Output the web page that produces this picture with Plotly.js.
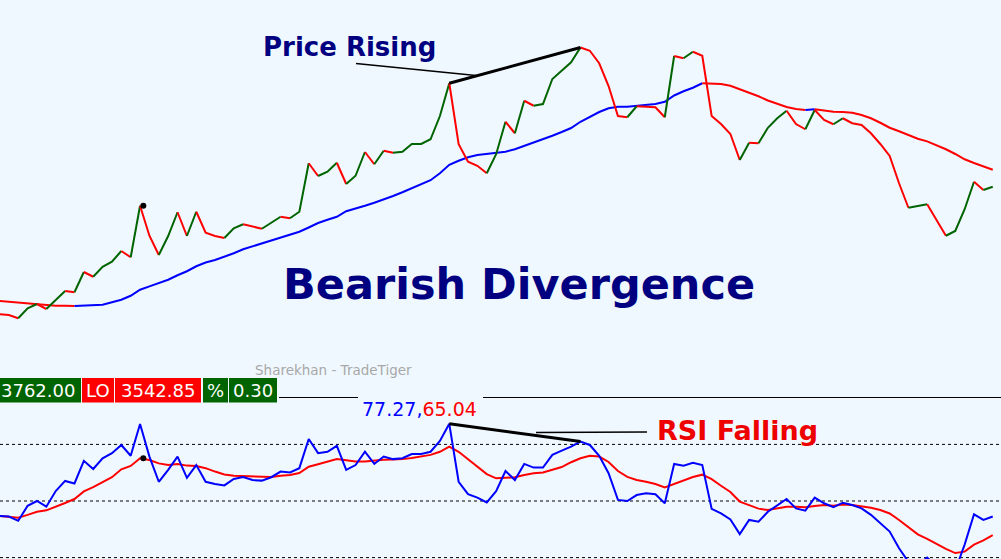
<!DOCTYPE html>
<html>
<head>
<meta charset="utf-8">
<script src="https://cdn.plot.ly/plotly-3.0.1.min.js"></script>
<style>html,body{margin:0;padding:0;background:#f0f8ff;}#chart{width:1001px;height:559px;}</style>
</head>
<body>
<div id="chart"></div>
<script>
// ---- data ----
const price = [3548.6,3548.0,3545.4,3553.4,3556.8,3552.8,3560.0,3567.2,3566.2,3582.4,
3578.6,3586.6,3590.6,3599.2,3594.2,3635.4,3611.4,3596.0,3611.2,3630.2,
3611.2,3630.6,3613.8,3611.2,3609.6,3617.4,3620.6,3618.6,3617.0,3621.8,
3626.6,3625.4,3630.6,3669.4,3659.2,3662.6,3669.8,3652.8,3659.4,3678.4,
3668.6,3679.4,3677.8,3678.6,3684.8,3684.8,3688.6,3707.2,3733.4,3684.6,
3670.6,3667.4,3661.4,3676.6,3702.6,3693.4,3719.4,3715.4,3716.8,3736.8,
3743.4,3750.2,3762.0,3759.4,3749.4,3731.2,3707.2,3706.2,3715.0,3714.8,
3714.2,3706.2,3755.2,3753.4,3758.6,3755.4,3707.2,3700.8,3692.8,3672.0,
3685.8,3685.4,3697.8,3705.4,3711.4,3700.8,3696.6,3712.0,3704.0,3700.6,
3705.4,3701.4,3700.0,3693.4,3684.8,3675.2,3653.4,3633.8,3635.4,3636.6,
3624.0,3611.4,3615.2,3632.6,3654.6,3648.0,3650.6];

const movingAvg = [3559.2,3558.6,3557.8,3556.8,3556.6,3556.0,3555.5,3555.4,3555.3,3555.4,
3555.5,3556.2,3558.2,3560.2,3563.4,3568.2,3570.9,3573.4,3576.2,3579.8,
3583.0,3587.0,3590.0,3592.0,3594.6,3597.4,3600.6,3603.0,3605.6,3607.6,
3610.0,3612.2,3614.6,3618.0,3621.6,3624.2,3626.6,3631.0,3633.0,3635.4,
3637.8,3640.2,3643.2,3646.2,3649.4,3652.6,3655.8,3661.4,3668.2,3671.4,
3674.2,3676.0,3676.8,3677.4,3678.6,3680.6,3683.2,3685.8,3688.6,3691.4,
3694.4,3697.6,3702.6,3706.6,3710.4,3713.4,3714.6,3714.7,3715.2,3715.8,
3716.8,3718.6,3723.6,3727.0,3729.8,3733.4,3733.3,3732.8,3731.4,3728.6,
3726.2,3723.0,3719.6,3716.8,3714.4,3712.8,3712.0,3712.6,3711.4,3710.6,
3710.5,3709.8,3708.0,3705.4,3701.8,3697.8,3695.0,3692.2,3689.0,3686.9,
3684.0,3680.6,3676.8,3672.6,3669.6,3667.0,3664.2];

const rsi = [44.7,44.5,43.0,48.3,50.0,48.0,53.5,57.1,56.2,64.2,
61.3,65.1,66.9,69.8,66.0,77.2,65.7,56.8,61.0,65.7,
58.2,62.7,56.8,56.0,55.5,57.8,58.5,57.4,57.2,58.4,
60.4,60.1,61.6,71.9,66.9,67.4,69.5,61.0,62.7,67.4,
63.1,65.7,64.8,65.1,66.6,66.6,67.4,71.2,77.27,56.8,
52.4,51.2,49.5,53.5,60.6,57.4,63.1,61.8,61.8,66.3,
67.8,69.2,71.0,69.8,66.0,59.8,50.4,50.0,52.1,52.7,
52.4,49.2,63.1,62.5,63.5,62.7,47.2,45.6,43.5,38.3,
43.3,42.7,46.2,48.6,50.7,47.4,46.6,51.2,49.2,47.8,
49.4,48.6,47.4,45.1,42.3,39.2,33.3,28.5,27.5,30.0,
27.0,25.0,25.5,34.6,45.3,43.3,44.5];

const rsiSignal = [44.7,44.5,44.1,45.1,46.2,46.7,47.9,49.3,50.7,53.4,
54.9,56.6,58.4,61.2,62.4,65.1,64.5,63.3,62.7,63.1,
62.5,62.4,61.6,60.4,59.4,58.9,58.8,58.5,58.4,58.5,
58.9,59.2,59.9,62.1,63.0,63.9,64.8,64.4,64.0,64.0,
64.4,64.6,64.7,64.8,65.2,65.8,66.3,67.4,69.2,67.4,
64.8,62.1,59.5,58.0,58.2,58.4,59.2,59.8,60.1,61.0,
62.0,63.7,65.1,66.0,65.7,63.8,60.6,58.5,57.4,56.8,
56.0,54.8,56.1,57.3,58.5,59.3,57.7,55.4,53.2,49.8,
48.5,47.3,46.8,47.4,48.0,48.0,47.8,48.2,48.6,48.3,
48.8,48.6,48.2,47.6,46.8,45.6,43.3,40.6,38.2,36.6,
34.8,33.1,31.6,32.1,34.6,36.1,37.9];

const rsiLevels = [70, 50, 30];
const pricePeaks = [48, 62];   // bar indices of the two price highs
const rsiPeaks = [48, 62];
const cursorBar = 15;
const hiText = '3762.00', loText = '3542.85', pctText = '0.30';
const rsiReadout = ['77.27', '65.04'];

// ---- helpers ----
const bars = price.map((_, i) => i);
const W = 1001, H = 559;
const px = x => x / W;
const py = y => 1 - y / H;

function splitBySlope(vals, upColor, downColor, yaxis, width) {
  const traces = [];
  let cur = null;
  for (let i = 1; i < vals.length; i++) {
    const up = vals[i] >= vals[i - 1];
    const col = up ? upColor : downColor;
    if (!cur || cur.line.color !== col) {
      cur = {type: 'scatter', mode: 'lines', x: [bars[i - 1]], y: [vals[i - 1]],
             yaxis: yaxis, line: {color: col, width: width}, hoverinfo: 'skip', showlegend: false};
      traces.push(cur);
    }
    cur.x.push(bars[i]); cur.y.push(vals[i]);
  }
  return traces;
}

const GREEN = '#006400', RED = '#ff0000', BLUE = '#0000ff', NAVY = '#000080';

const data = [].concat(
  splitBySlope(movingAvg, BLUE, RED, 'y', 2),
  splitBySlope(price, GREEN, RED, 'y', 2),
  [{type: 'scatter', mode: 'lines', x: bars, y: rsiSignal, yaxis: 'y2',
    line: {color: RED, width: 2}, hoverinfo: 'skip', showlegend: false},
   {type: 'scatter', mode: 'lines', x: bars, y: rsi, yaxis: 'y2',
    line: {color: BLUE, width: 2}, hoverinfo: 'skip', showlegend: false},
   {type: 'scatter', mode: 'lines', x: pricePeaks, y: pricePeaks.map(i => price[i]), yaxis: 'y',
    line: {color: '#000', width: 3}, hoverinfo: 'skip', showlegend: false},
   {type: 'scatter', mode: 'lines', x: rsiPeaks, y: rsiPeaks.map(i => rsi[i]), yaxis: 'y2',
    line: {color: '#000', width: 3}, hoverinfo: 'skip', showlegend: false},
   {type: 'scatter', mode: 'markers', x: [cursorBar + 0.35], y: [price[cursorBar]], yaxis: 'y',
    marker: {color: '#000', size: 6}, hoverinfo: 'skip', showlegend: false},
   {type: 'scatter', mode: 'markers', x: [cursorBar + 0.35], y: [rsiSignal[cursorBar]], yaxis: 'y2',
    marker: {color: '#000', size: 6}, hoverinfo: 'skip', showlegend: false}]
);

const shapes = [];
rsiLevels.forEach(l => shapes.push({type: 'line', xref: 'paper', yref: 'y2', x0: 0, x1: 1, y0: l, y1: l,
  line: {color: '#000', width: 1, dash: 'dot'}, layer: 'below'}));
// separator line
shapes.push({type: 'line', xref: 'paper', yref: 'paper', x0: px(279), x1: px(358), y0: py(397.5), y1: py(397.5), line: {color: '#000', width: 1}});
shapes.push({type: 'line', xref: 'paper', yref: 'paper', x0: px(483), x1: 1, y0: py(397.5), y1: py(397.5), line: {color: '#000', width: 1}});
// pointer lines
shapes.push({type: 'line', xref: 'paper', yref: 'paper', x0: px(356), y0: py(63.5), x1: px(476), y1: py(75.5), line: {color: '#000', width: 1.5}});
shapes.push({type: 'line', xref: 'paper', yref: 'paper', x0: px(536), y0: py(432.5), x1: px(647), y1: py(432), line: {color: '#000', width: 1.5}});
// header boxes
const boxes = [[-5, 81, GREEN], [82, 114, RED], [115, 201, RED], [203, 228, GREEN], [229, 277, GREEN]];
boxes.forEach(b => shapes.push({type: 'rect', xref: 'paper', yref: 'paper', x0: px(b[0]), x1: px(b[1]),
  y0: py(402.5), y1: py(378), fillcolor: b[2], line: {width: 0}}));

const boxFont = {family: 'DejaVu Sans', size: 18, color: '#ffffff'};
const ann = (x, y, text, font, xanchor) => ({xref: 'paper', yref: 'paper', x: px(x), y: py(y), text: text,
  showarrow: false, font: font, xanchor: xanchor || 'center', yanchor: 'middle'});

const annotations = [
  ann(349.5, 47, 'Price Rising', {family: 'DejaVu Sans', size: 26, color: NAVY, weight: 'bold'}),
  ann(518.5, 284, 'Bearish Divergence', {family: 'DejaVu Sans', size: 43, color: NAVY, weight: 'bold'}),
  ann(737, 430, 'RSI Falling', {family: 'DejaVu Sans', size: 27, color: '#ee0000', weight: 'bold'}),
  ann(333.5, 369.5, 'Sharekhan - TradeTiger', {family: 'DejaVu Sans', size: 13.5, color: '#a8a8a8'}),
  ann(77, 390.5, hiText, boxFont, 'right'),
  ann(98, 390.5, 'LO', boxFont),
  ann(158, 390.5, loText, boxFont),
  ann(215.5, 390.5, '%', boxFont),
  ann(253, 390.5, pctText, boxFont),
  ann(419.5, 408.5, '<span style="color:#0000ff">' + rsiReadout[0] + ',</span><span style="color:#ff0000">' + rsiReadout[1] + '</span>',
      {family: 'DejaVu Sans', size: 19, color: BLUE})
];

const layout = {
  width: W, height: H, autosize: false,
  margin: {l: 0, r: 0, t: 0, b: 0, pad: 0},
  paper_bgcolor: '#f0f8ff', plot_bgcolor: '#f0f8ff',
  showlegend: false,
  xaxis: {range: [0.053, 106.88], visible: false, fixedrange: true},
  yaxis: {domain: [1 - 355 / H, 1], range: [3516, 3800], visible: false, fixedrange: true},
  yaxis2: {domain: [0, 159 / H], range: [29.505, 85.689], visible: false, fixedrange: true, anchor: 'x'},
  shapes: shapes,
  annotations: annotations
};

Plotly.newPlot('chart', data, layout, {displayModeBar: false, staticPlot: true});
</script>
</body>
</html>
